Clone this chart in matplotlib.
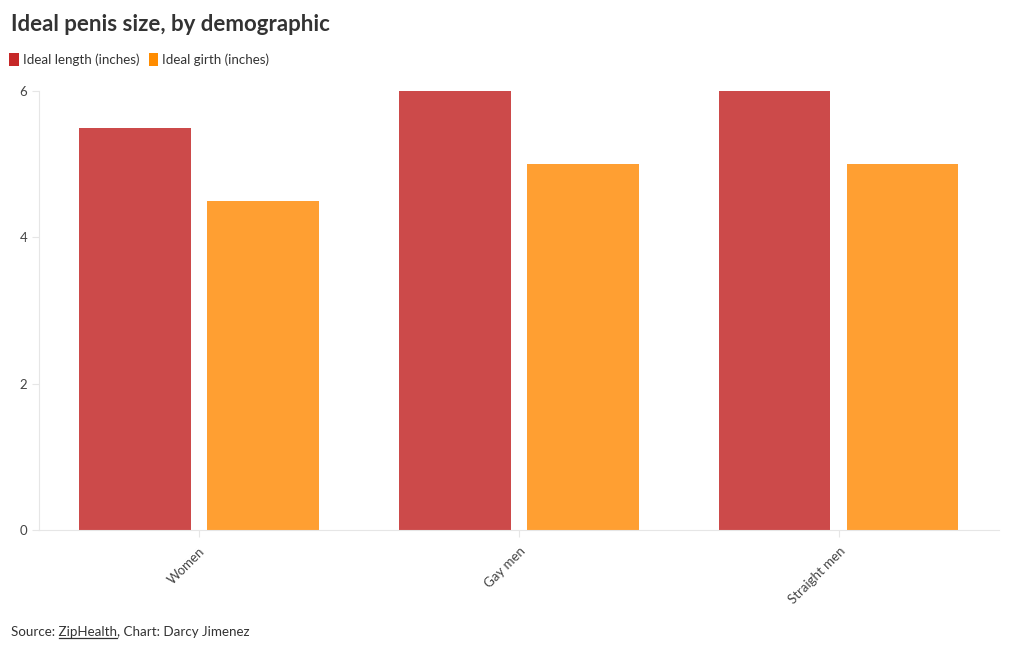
import matplotlib
matplotlib.use('Agg')
import matplotlib.pyplot as plt
from matplotlib.patches import Patch
from matplotlib.lines import Line2D
import numpy as np

categories = ['Women', 'Gay men', 'Straight men']
ideal_length = [5.5, 6, 6]
ideal_girth = [4.5, 5, 5]
series_names = ['Ideal length (inches)', 'Ideal girth (inches)']

plt.rcParams['font.family'] = ['Lato', 'DejaVu Sans']

fig = plt.figure(figsize=(10.2, 6.5), dpi=100)
ax = fig.add_axes([0.0382, 0.1846, 0.941, 0.6754])

x = np.arange(len(categories))
ax.bar(x - 0.2, ideal_length, width=0.348, color='#cc4a4a')
ax.bar(x + 0.2, ideal_girth, width=0.348, color='#ff9f32')

ax.set_xlim(-0.5, 2.5)
ax.set_ylim(0, 6)
ax.set_yticks([0, 2, 4, 6])
ax.set_xticks(x)
ax.set_xticklabels(categories, rotation=45, ha='right', rotation_mode='anchor')

for s in ['top', 'right']:
    ax.spines[s].set_visible(False)
ax.spines['left'].set_color('#e6e6e6')
ax.spines['bottom'].set_color('#e6e6e6')
ax.tick_params(axis='both', colors='#e6e6e6', labelcolor='#444444', labelsize=9.5, length=5)
ax.tick_params(axis='x', pad=6)

fig.text(0.011, 0.963, 'Ideal penis size, by demographic', fontsize=16, fontweight='bold',
         color='#333333', va='center')

handles = [Patch(facecolor='#c62828'), Patch(facecolor='#ff8c00')]
fig.legend(handles, series_names, loc='center left', bbox_to_anchor=(0.004, 0.908), ncol=2,
           frameon=False, handlelength=0.7, handleheight=1.1, handletextpad=0.3,
           columnspacing=0.7, fontsize=9.6, labelcolor='#333333', borderaxespad=0)

# source line, link part underlined
src_y = 0.022
fig.text(0.011, src_y, 'Source: ZipHealth, Chart: Darcy Jimenez', fontsize=9.6,
         color='#333333', va='baseline')
renderer = fig.canvas.get_renderer()

def text_width(s):
    t = fig.text(0, 0, s, fontsize=9.6)
    w = t.get_window_extent(renderer).width
    t.remove()
    return w

x_end = text_width('Source: ZipHealth')
x_start = x_end - text_width('ZipHealth')
x0 = 0.011 * fig.bbox.width
fig.add_artist(Line2D([(x0 + x_start) / fig.bbox.width, (x0 + x_end) / fig.bbox.width],
                      [src_y - 0.004, src_y - 0.004],
                      transform=fig.transFigure, color='#333333', lw=0.9))

fig.savefig('out.png', dpi=100)
